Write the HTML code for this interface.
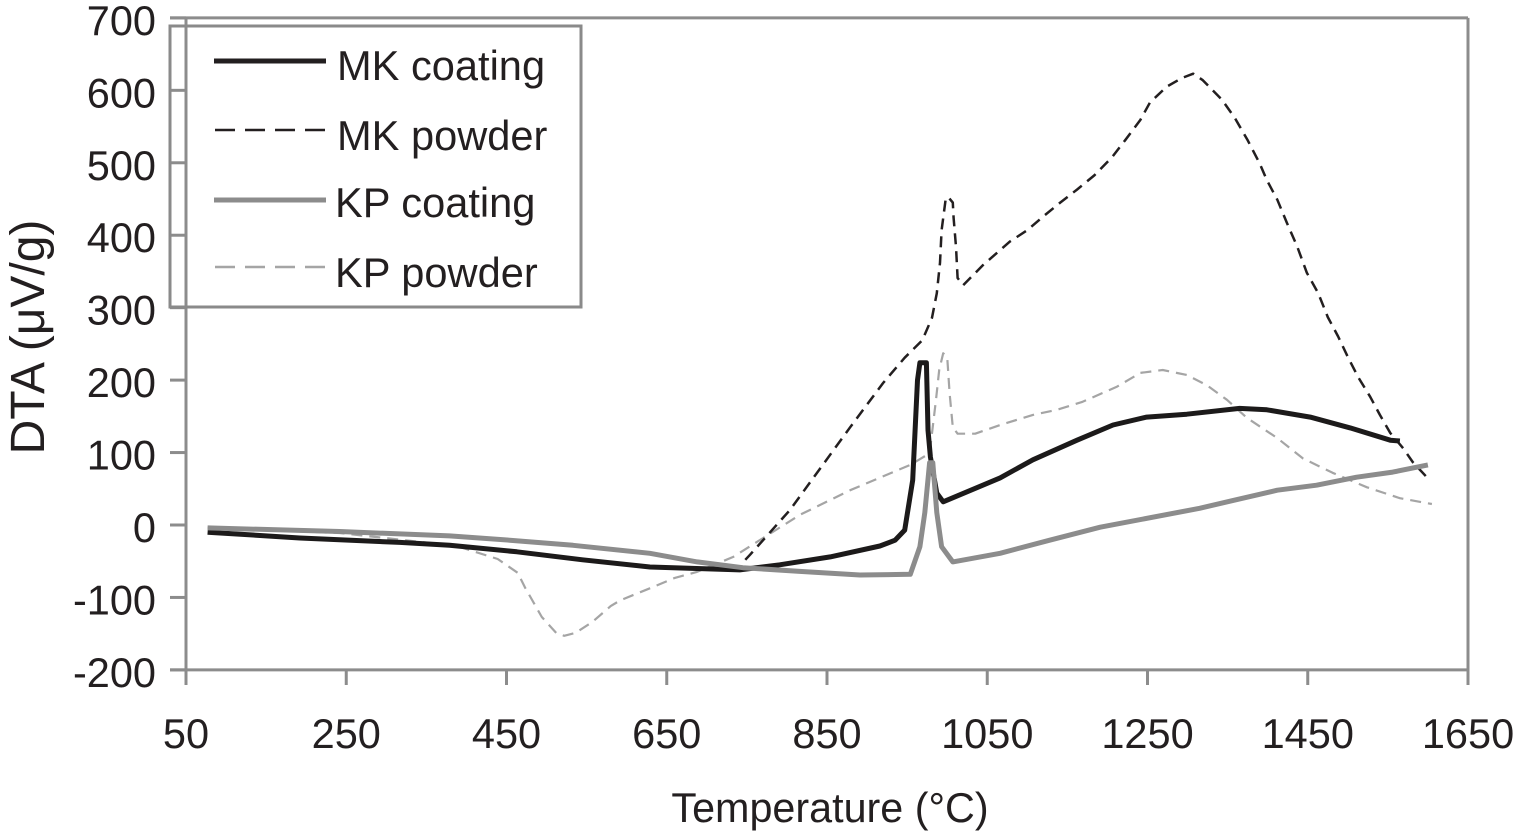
<!DOCTYPE html>
<html>
<head>
<meta charset="utf-8">
<title>DTA chart</title>
<style>
html,body{margin:0;padding:0;background:#fff;width:1513px;height:832px;overflow:hidden}
svg{display:block}
text{font-family:"Liberation Sans",sans-serif;fill:#231f20}
</style>
</head>
<body>
<svg id="chart" width="1513" height="832" viewBox="0 0 1513 832" xmlns="http://www.w3.org/2000/svg">
  <g id="grid-axes"></g>
  <g id="series"></g>
  <rect x="170" y="26" width="411" height="281" fill="none" stroke="#8a8a8a" stroke-width="3"/>
  <g>
    <line x1="214" y1="61" x2="326" y2="61" stroke="#231f20" stroke-width="5"/>
    <text x="337" y="80" font-size="41.6">MK coating</text>
    <line x1="215" y1="130" x2="326" y2="130" stroke="#231f20" stroke-width="2.4" stroke-dasharray="20 10"/>
    <text x="337" y="150" font-size="41.6">MK powder</text>
    <line x1="214" y1="200" x2="326" y2="200" stroke="#8c8c8c" stroke-width="5"/>
    <text x="335" y="217" font-size="41.6">KP coating</text>
    <line x1="215" y1="267" x2="326" y2="267" stroke="#a5a5a5" stroke-width="2.4" stroke-dasharray="20 10"/>
    <text x="335" y="287" font-size="41.6">KP powder</text>
  </g>
  <text transform="translate(44,337) rotate(-90)" text-anchor="middle" font-size="48">DTA (μV/g)</text>
  <text x="830" y="822" text-anchor="middle" font-size="41.3">Temperature (°C)</text>
</svg>
<script>
const xTicks = [50, 250, 450, 650, 850, 1050, 1250, 1450, 1650];
const yTicks = [700, 600, 500, 400, 300, 200, 100, 0, -100, -200];

const mkCoatingT = [77, 192, 317, 379, 463, 545, 629, 741, 791, 854, 916, 935, 947, 957, 960, 963, 966, 974, 976, 979, 987, 995, 1066, 1107, 1162, 1207, 1249, 1299, 1365, 1399, 1453, 1503, 1553, 1565];
const mkCoatingV = [-10, -18, -24, -28, -37, -48, -58, -62, -55, -44, -29, -21, -7, 62, 131, 200, 224, 224, 131, 94, 44, 32, 65, 90, 117, 138, 149, 153, 161, 159, 149, 134, 117, 116];

const mkPowderT = [748, 754, 804, 879, 920, 947, 969, 981, 987, 991, 993, 998, 1001, 1007, 1008, 1011, 1013, 1020, 1045, 1078, 1100, 1120, 1141, 1162, 1184, 1206, 1222, 1241, 1253, 1274, 1293, 1307, 1319, 1343, 1359, 1375, 1390, 1399, 1412, 1424, 1437, 1449, 1463, 1475, 1488, 1500, 1513, 1528, 1540, 1553, 1569, 1581, 1602];
const mkPowderV = [-48, -41, 21, 135, 196, 231, 255, 286, 320, 362, 407, 449, 453, 445, 424, 384, 341, 331, 359, 391, 407, 426, 445, 463, 483, 508, 531, 559, 583, 605, 617, 623, 614, 587, 562, 531, 499, 476, 449, 417, 384, 348, 320, 287, 260, 232, 204, 177, 152, 127, 106, 87, 62];

const kpCoatingT = [77, 242, 379, 454, 533, 629, 688, 745, 816, 891, 954, 966, 972, 978, 982, 987, 993, 1007, 1066, 1128, 1191, 1315, 1357, 1412, 1461, 1511, 1556, 1600];
const kpCoatingV = [-4, -9, -15, -21, -28, -39, -51, -59, -64, -69, -68, -30, 17, 86, 86, 17, -30, -51, -39, -21, -3, 23, 34, 48, 55, 66, 73, 83];

const kpPowderT = [77, 242, 388, 439, 464, 473, 494, 512, 522, 536, 557, 580, 592, 632, 660, 687, 733, 766, 816, 879, 954, 978, 986, 990, 995, 1000, 1003, 1007, 1013, 1035, 1066, 1107, 1137, 1169, 1212, 1241, 1269, 1299, 1324, 1349, 1374, 1412, 1444, 1481, 1524, 1565, 1605];
const kpPowderV = [-4, -11, -29, -47, -66, -86, -127, -149, -153, -149, -134, -112, -104, -86, -73, -65, -44, -21, 14, 48, 83, 99, 173, 214, 237, 232, 182, 135, 126, 126, 138, 152, 159, 170, 191, 210, 214, 207, 193, 173, 148, 120, 92, 72, 52, 37, 29];

const NS = 'http://www.w3.org/2000/svg';
const axisColor = '#8c8c8c';
function xPos(t) { return 186 + (t - 50) * (1282 / 1600); }
function yPos(v) { return 525 - v * (652 / 900); }

const axes = document.getElementById('grid-axes');
const seriesGroup = document.getElementById('series');

function addLine(x1, y1, x2, y2, w) {
  const l = document.createElementNS(NS, 'line');
  l.setAttribute('x1', x1);
  l.setAttribute('y1', y1);
  l.setAttribute('x2', x2);
  l.setAttribute('y2', y2);
  l.setAttribute('stroke', axisColor);
  l.setAttribute('stroke-width', w);
  axes.appendChild(l);
  return l;
}

const plotTop = addLine(170, yPos(700), xPos(1650), yPos(700), 3);


const plotRight = addLine(xPos(1650), yPos(700), xPos(1650), 685, 3);


const yAxisLine = addLine(xPos(50), yPos(700), xPos(50), 685, 3);


const xAxisLine = addLine(170, yPos(-200), xPos(1650), yPos(-200), 3);



yTicks.forEach(function (v) {
  const tick = addLine(170, yPos(v), xPos(50), yPos(v), 3);
  
  
  const label = document.createElementNS(NS, 'text');
  label.setAttribute('x', 156);
  label.setAttribute('y', yPos(v) + 17);
  label.setAttribute('text-anchor', 'end');
  label.setAttribute('font-size', '41.5');
  label.textContent = v;
  
  
  axes.appendChild(label);
});

xTicks.forEach(function (t) {
  const tick = addLine(xPos(t), yPos(-200), xPos(t), 685, 3);
  
  
  const label = document.createElementNS(NS, 'text');
  label.setAttribute('x', xPos(t));
  label.setAttribute('y', 748);
  label.setAttribute('text-anchor', 'middle');
  label.setAttribute('font-size', '41.5');
  label.textContent = t;
  
  
  axes.appendChild(label);
});

function drawSeries(ts, vs, color, width, dash) {
  const p = document.createElementNS(NS, 'polyline');
  const pts = ts.map(function (t, i) { return xPos(t).toFixed(1) + ',' + yPos(vs[i]).toFixed(1); });
  p.setAttribute('points', pts.join(' '));
  p.setAttribute('fill', 'none');
  p.setAttribute('stroke', color);
  p.setAttribute('stroke-width', width);
  p.setAttribute('stroke-linejoin', 'round');
  if (dash) p.setAttribute('stroke-dasharray', dash);
  seriesGroup.appendChild(p);
  return p;
}

const kpPowderLine = drawSeries(kpPowderT, kpPowderV, '#a5a5a5', 2.2, '11 7');


const mkPowderLine = drawSeries(mkPowderT, mkPowderV, '#231f20', 2.5, '11 7');


const mkCoatingLine = drawSeries(mkCoatingT, mkCoatingV, '#1c1a1a', 5, null);


const kpCoatingLine = drawSeries(kpCoatingT, kpCoatingV, '#8c8c8c', 5, null);


</script>
</body>
</html>
